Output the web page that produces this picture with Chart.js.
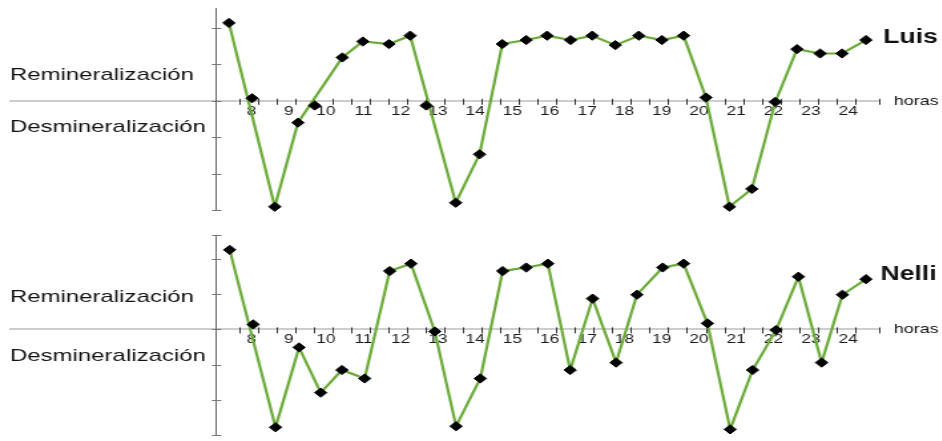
<!DOCTYPE html>
<html lang="es">
<head>
<meta charset="UTF-8">
<title>Remineralización y desmineralización: Luis y Nelli</title>
<script src="https://cdn.jsdelivr.net/npm/chart.js"></script>
<style>
    body {
        margin: 0;
        background: #fff;
        width: 942px;
        height: 441px;
        overflow: hidden;
        position: relative;
    }
    /* the reference is stretched sideways, so each panel is drawn narrow and widened */
    .panel {
        position: absolute;
        left: 0;
        width: 708px;
        transform: scaleX(1.33);
        transform-origin: 0 0;
    }
    #luisBox { top: 0; height: 221px; }
    #nelliBox { top: 225px; height: 216px; }
</style>
</head>
<body>
<div class="panel" id="luisBox"><canvas id="luisChart"></canvas></div>
<div class="panel" id="nelliBox"><canvas id="nelliChart"></canvas></div>

<script>
    const STRETCH = 1.33;
    const FONT = '"Liberation Sans", Arial, sans-serif';

    // horizontal axis (hours)
    const X_MIN = 1.35;
    const X_MAX = 24.65;
    const Y_AXIS_AT = 6.89;
    const xTicks = [7.5, 8, 8.5, 9, 9.5, 10, 10.5, 11, 11.5, 12, 12.5, 13, 13.5, 14, 14.5, 15, 15.5,
                    16, 16.5, 17, 17.5, 18, 18.5, 19, 19.5, 20, 20.5, 21, 21.5, 22, 22.5, 23, 23.5, 24, 24.65];

    // Luis
    const luisHours = [7.22, 7.84, 8.45, 9.07, 9.52, 10.26, 10.81, 11.51, 12.08, 12.51, 13.30, 13.94, 14.55, 15.19, 15.75,
                       16.38, 16.96, 17.58, 18.21, 18.83, 19.41, 20.01, 20.64, 21.24, 21.87, 22.45, 23.07, 23.66, 24.30];
    const luisValues = [2.14, 0.07, -2.91, -0.6, -0.13, 1.19, 1.63, 1.56, 1.79, -0.13, -2.8, -1.47, 1.56, 1.67, 1.79,
                        1.67, 1.79, 1.53, 1.79, 1.67, 1.79, 0.09, -2.91, -2.42, -0.03, 1.42, 1.3, 1.3, 1.67];
    const luisOffLine = [1, 4, 9];   // markers that sit beside the green line
    const luisYTicks = [-3, -2, -1, 0, 1, 2];

    // Nelli
    const nelliHours = [7.24, 7.87, 8.47, 9.10, 9.68, 10.25, 10.86, 11.53, 12.10, 12.74, 13.31, 13.96, 14.56, 15.19, 15.77,
                        16.37, 16.97, 17.60, 18.16, 18.85, 19.41, 20.05, 20.66, 21.26, 21.89, 22.49, 23.11, 23.67, 24.30];
    const nelliValues = [2.25, 0.14, -2.77, -0.51, -1.79, -1.15, -1.39, 1.65, 1.86, -0.06, -2.74, -1.39, 1.65, 1.75, 1.86,
                         -1.15, 0.87, -0.94, 0.98, 1.75, 1.86, 0.17, -2.83, -1.15, -0.02, 1.49, -0.94, 0.98, 1.42];
    const nelliOffLine = [1];
    const nelliYTicks = [-3, -2, -1, 0, 1, 2, 2.67];

    function stretchedText(ctx, text, x, y, font, k) {
        ctx.save();
        ctx.font = font;
        ctx.translate(x, y);
        ctx.scale(k, 1);
        ctx.fillText(text, 0, 0);
        ctx.restore();
    }

    // tick marks crossing the axes + the side texts
    const marksPlugin = {
        id: 'marks',
        beforeDatasetsDraw(chart) {
            const ctx = chart.ctx, xs = chart.scales.x, ys = chart.scales.y;
            const y0 = ys.getPixelForValue(0);
            const x0 = xs.getPixelForValue(Y_AXIS_AT);
            ctx.save();
            ctx.lineWidth = 1;
            ctx.strokeStyle = '#333';
            ctx.beginPath();
            xs.ticks.forEach(t => {
                const px = Math.round(xs.getPixelForValue(t.value)) + 0.5;
                ctx.moveTo(px, y0 - 2);
                ctx.lineTo(px, y0 + 4);
            });
            ctx.stroke();
            ctx.strokeStyle = '#777';
            ctx.beginPath();
            ys.ticks.forEach(t => {
                const py = Math.round(ys.getPixelForValue(t.value)) + 0.5;
                ctx.moveTo(x0 - 3.5, py);
                ctx.lineTo(x0 + 3.5, py);
            });
            ctx.stroke();
            ctx.restore();
        },
        afterDraw(chart, args, o) {
            const ctx = chart.ctx;
            const y0 = chart.scales.y.getPixelForValue(0);
            ctx.save();
            ctx.fillStyle = '#111';
            ctx.textBaseline = 'alphabetic';
            ctx.textAlign = 'left';
            stretchedText(ctx, 'Remineralización', 7.5, y0 + o.remiDy, '17px ' + FONT, 1.06);
            stretchedText(ctx, 'Desmineralización', 7.5, y0 + o.desmDy, '17px ' + FONT, 1.06);
            stretchedText(ctx, 'horas', 672, y0 + o.horasDy, '13.5px ' + FONT, 1);
            stretchedText(ctx, o.name, o.nameX, y0 + o.nameDy, 'bold 20px ' + FONT, 1);
            ctx.restore();
        }
    };

    function makeChart(id, hours, values, offLine, yTicks, yMax, pad, labels) {
        const points = hours.map((h, i) => ({x: h, y: values[i]}));
        const linePoints = hours.map((h, i) => ({x: h, y: offLine.includes(i) ? null : values[i]}));
        return new Chart(document.getElementById(id), {
            type: 'line',
            data: {
                datasets: [{
                    data: points,
                    showLine: false,
                    pointStyle: 'rectRot',
                    pointRadius: 4.6,
                    pointBackgroundColor: '#000',
                    pointBorderColor: '#000',
                    pointBorderWidth: 1,
                    clip: false,
                    order: 0
                }, {
                    data: linePoints,
                    borderColor: '#6cab3a',
                    borderWidth: 2.2,
                    pointRadius: 0,
                    spanGaps: true,
                    tension: 0,
                    clip: false,
                    order: 1
                }]
            },
            options: {
                responsive: true,
                maintainAspectRatio: false,
                animation: false,
                events: [],
                layout: {padding: pad},
                plugins: {
                    legend: {display: false},
                    tooltip: {enabled: false},
                    marks: labels
                },
                scales: {
                    x: {
                        type: 'linear',
                        min: X_MIN,
                        max: X_MAX,
                        position: {y: 0},
                        afterBuildTicks: s => { s.ticks = xTicks.map(v => ({value: v})); },
                        afterFit: s => { s.height = 0; s.paddingLeft = 0; s.paddingRight = 0; },
                        grid: {display: false, drawTicks: false},
                        border: {color: '#cdcdcd', width: 2},
                        ticks: {
                            autoSkip: false,
                            maxRotation: 0,
                            padding: 2.5,
                            labelOffset: -5,
                            color: '#1a1a1a',
                            font: {family: FONT, size: 13},
                            callback: v => (Number.isInteger(v) && v >= 8) ? String(v) : ''
                        }
                    },
                    y: {
                        type: 'linear',
                        min: -3,
                        max: yMax,
                        position: {x: Y_AXIS_AT},
                        afterBuildTicks: s => { s.ticks = yTicks.map(v => ({value: v})); },
                        afterFit: s => { s.width = 0; },
                        grid: {display: false, drawTicks: false},
                        border: {color: '#666', width: 1},
                        ticks: {display: false}
                    }
                }
            },
            plugins: [marksPlugin]
        });
    }

    const padRight = 708 - 879 / STRETCH;
    const padLeft = 10 / STRETCH;

    makeChart('luisChart', luisHours, luisValues, luisOffLine, luisYTicks, 2.55,
        {left: padLeft, right: padRight, top: 8, bottom: 11},
        {name: 'Luis', nameX: 664, nameDy: -57.5, remiDy: -20.8, desmDy: 31, horasDy: 4});

    makeChart('nelliChart', nelliHours, nelliValues, nelliOffLine, nelliYTicks, 2.67,
        {left: padLeft, right: padRight, top: 10, bottom: 1.5},
        {name: 'Nelli', nameX: 662, nameDy: -49, remiDy: -27.3, desmDy: 31.7, horasDy: 3.7});
</script>
</body>
</html>
